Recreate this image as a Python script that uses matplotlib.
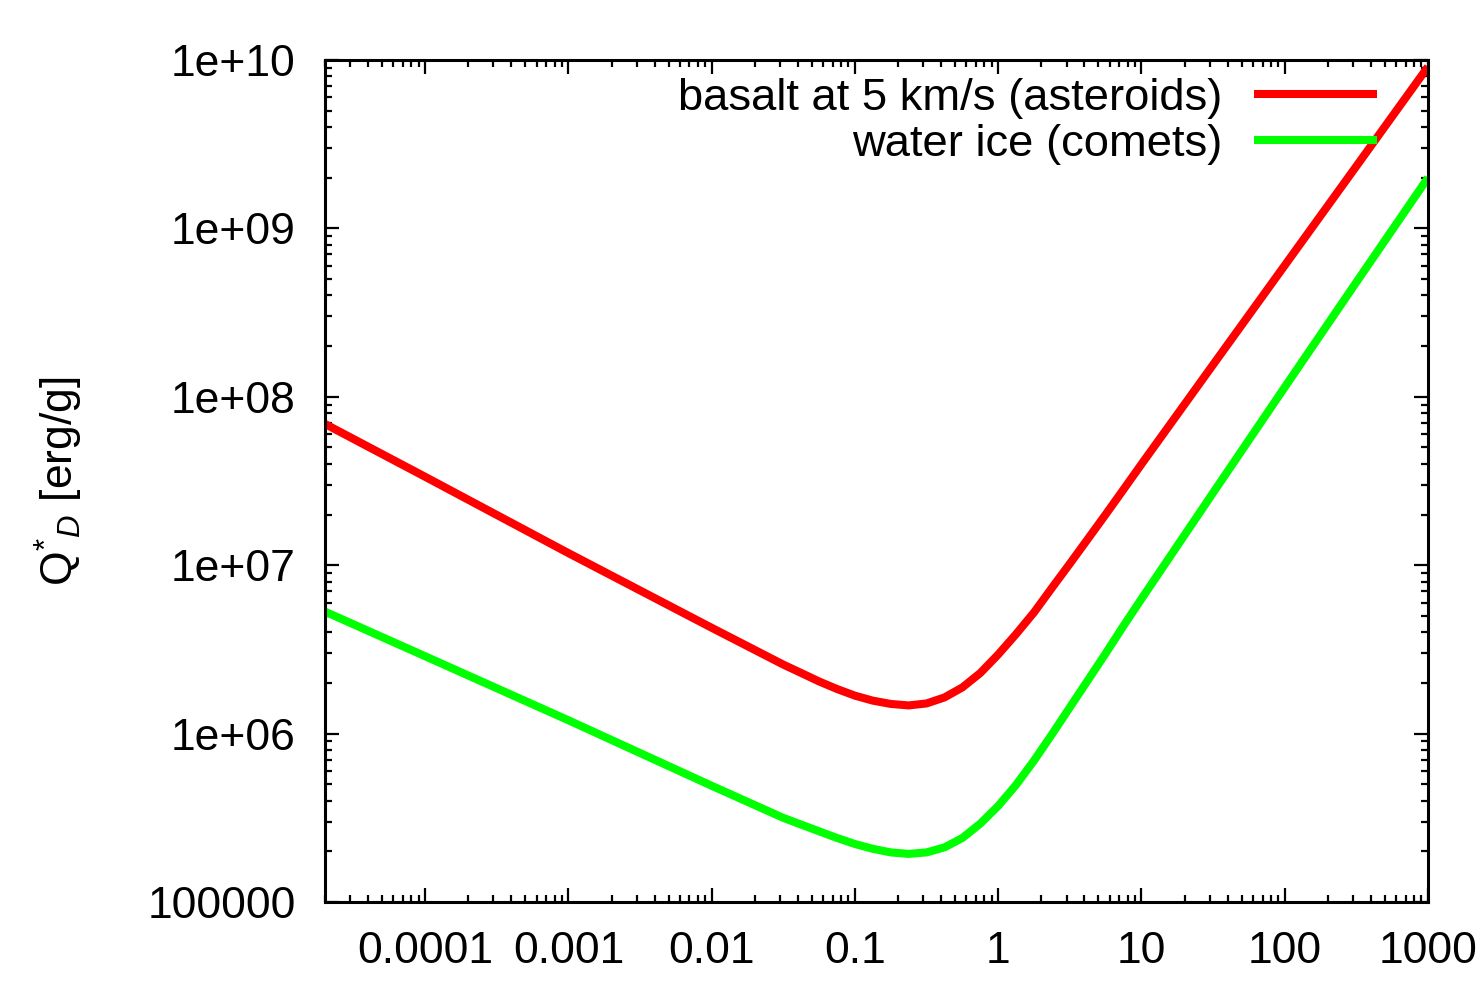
import matplotlib
matplotlib.use("Agg")
import matplotlib.pyplot as plt
from matplotlib.ticker import LogLocator, NullFormatter

# ---------- data (log-log) ----------

# radius axis, denser around the strength/gravity turnover
radius = [2e-5, 1e-4, 1e-3, 1e-2, 0.0316, 0.0422, 0.0562, 0.075, 0.1,
          0.133, 0.178, 0.237, 0.316, 0.422, 0.562, 0.75, 1.0, 1.33,
          1.78, 2.37, 3.16, 4.22, 5.62, 7.5, 10.0, 31.6, 100.0, 316.0, 1000.0]

# basalt at 5 km/s (asteroids)
basalt_q = [6.9e7, 3.35e7, 1.18e7, 4.25e6, 2.57e6, 2.29e6, 2.04e6, 1.84e6, 1.68e6,
            1.57e6, 1.50e6, 1.47e6, 1.51e6, 1.64e6, 1.88e6, 2.29e6, 2.95e6, 3.89e6,
            5.25e6, 7.33e6, 1.02e7, 1.43e7, 2.0e7, 2.82e7, 3.98e7, 1.55e8, 6.03e8,
            2.34e9, 9.12e9]

# water ice (comets)
ice_q = [5.3e6, 2.88e6, 1.2e6, 4.9e5, 3.16e5, 2.88e5, 2.63e5, 2.4e5, 2.21e5,
         2.07e5, 1.97e5, 1.93e5, 1.97e5, 2.11e5, 2.4e5, 2.92e5, 3.72e5, 4.95e5,
         6.92e5, 9.89e5, 1.43e6, 2.07e6, 2.99e6, 4.37e6, 6.31e6, 2.69e7, 1.14e8,
         4.79e8, 2.0e9]

labels = ["basalt at 5 km/s (asteroids)", "water ice (comets)"]
colors = ["#ff0000", "#00ff00"]

x_ticks = [1e-4, 1e-3, 1e-2, 1e-1, 1, 10, 100, 1000]
x_ticklabels = ["0.0001", "0.001", "0.01", "0.1", "1", "10", "100", "1000"]
y_ticks = [1e5, 1e6, 1e7, 1e8, 1e9, 1e10]
y_ticklabels = ["100000", "1e+06", "1e+07", "1e+08", "1e+09", "1e+10"]


def main() -> None:
    plt.rcParams["font.family"] = ["Liberation Sans", "DejaVu Sans"]
    plt.rcParams["mathtext.fontset"] = "custom"
    plt.rcParams["mathtext.rm"] = "Liberation Sans"
    plt.rcParams["mathtext.it"] = "Liberation Sans:italic"

    fig = plt.figure(figsize=(14.82, 9.82), dpi=100)
    ax = fig.add_axes([325 / 1482, 1 - 902 / 982, 1103 / 1482, 842 / 982])

    ax.plot(radius, basalt_q, color=colors[0], lw=5.8, label=labels[0],
            solid_capstyle="butt", solid_joinstyle="round")
    ax.plot(radius, ice_q, color=colors[1], lw=5.8, label=labels[1],
            solid_capstyle="butt", solid_joinstyle="round")

    ax.set_xscale("log")
    ax.set_yscale("log")
    ax.set_xlim(2e-5, 1000)
    ax.set_ylim(1e5, 1e10)

    ax.set_xticks(x_ticks)
    ax.set_xticklabels(x_ticklabels)
    ax.set_yticks(y_ticks)
    ax.set_yticklabels(y_ticklabels)
    ax.xaxis.set_minor_locator(LogLocator(base=10, subs=range(2, 10), numticks=50))
    ax.yaxis.set_minor_locator(LogLocator(base=10, subs=range(2, 10), numticks=50))
    ax.xaxis.set_minor_formatter(NullFormatter())
    ax.yaxis.set_minor_formatter(NullFormatter())

    ax.tick_params(which="both", direction="in", top=True, right=True,
                   labelsize=32, width=1.6)
    ax.tick_params(which="major", length=10, pad=21)
    ax.tick_params(which="minor", length=5)
    for sp in ax.spines.values():
        sp.set_linewidth(2.2)

    # gnuplot-style: star first, then subscript D, no stacking
    ax.set_ylabel(r"$\mathrm{Q}^{*}{}_{D}$" + " [erg/g]", fontsize=32)
    ax.yaxis.set_label_coords(-0.218, 0.5)

    ax.legend(loc="upper right", bbox_to_anchor=(0.954, 0.979), frameon=False,
              markerfirst=False, fontsize=32.7, handlelength=2.71,
              handletextpad=0.7, labelspacing=0.12, borderpad=0,
              borderaxespad=0)

    fig.savefig("out.png", dpi=100)


if __name__ == "__main__":
    main()
